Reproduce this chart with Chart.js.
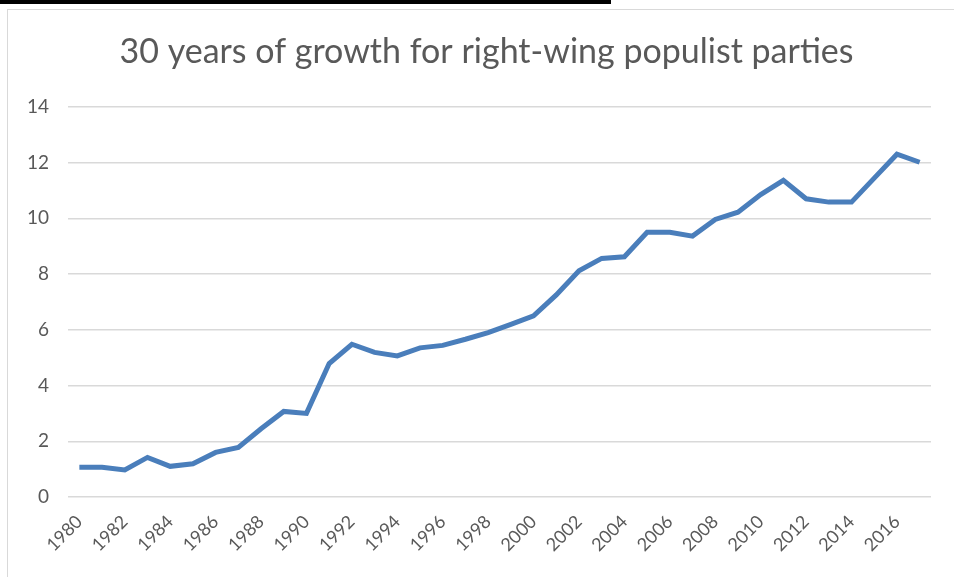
<!DOCTYPE html>
<html>
<head>
<meta charset="utf-8">
<script src="https://cdn.jsdelivr.net/npm/chart.js@4"></script>
<style>
  html, body { margin: 0; padding: 0; background: #fff; overflow: hidden; }
  #bar { position: absolute; left: 0; top: 0; width: 611px; height: 4px; background: #000; }
  #frame { position: absolute; left: 7px; top: 9px; width: 960px; height: 600px; border: 1px solid #d9d9d9; }
  #myChart { position: absolute; left: 0; top: 0; }
</style>
</head>
<body>
<div id="bar"></div>
<div id="frame">
  <canvas id="myChart" width="946" height="567"></canvas>
</div>
<script>
var titulo = '30 years of growth for right-wing populist parties';

var anios = [];
for (var a = 1980; a <= 2017; a++) anios.push(String(a));

var valores = [
  1.07, 1.07, 0.97, 1.42, 1.10, 1.19, 1.60, 1.78, 2.45, 3.07,
  3.00, 4.79, 5.48, 5.19, 5.06, 5.35, 5.44, 5.66, 5.90, 6.19,
  6.50, 7.25, 8.12, 8.56, 8.62, 9.50, 9.50, 9.36, 9.96, 10.22,
  10.85, 11.36, 10.70, 10.58, 10.58, 11.44, 12.30, 12.01
];

var ejeY = { min: 0, max: 14, paso: 2 };

var gris = '#595959';
var fuente = 'Lato, "Open Sans", sans-serif';

var ctx = document.getElementById('myChart').getContext('2d');

var config = {
  type: 'line',
  data: {
    labels: anios,
    datasets: [{
      data: valores,
      borderColor: '#4a7ebb',
      borderWidth: 5,
      pointRadius: 0,
      tension: 0,
      fill: false
    }]
  },
  options: {
    responsive: false,
    animation: false,
    layout: {
      padding: { left: 11, right: 0, top: 0, bottom: 10 }
    },
    plugins: {
      legend: { display: false },
      tooltip: { enabled: false },
      title: {
        display: true,
        text: titulo,
        color: gris,
        font: { family: fuente, size: 34, weight: 'normal' },
        padding: { top: 22, bottom: 34 }
      }
    },
    scales: {
      x: {
        offset: true,
        grid: { display: false },
        border: { display: false },
        afterFit: function (scale) {
          // margen derecho del área de dibujo
          scale.paddingLeft = 0;
          scale.paddingRight = 23;
          scale.height = 70;
        },
        ticks: {
          color: gris,
          font: { family: fuente, size: 18 },
          autoSkip: false,
          maxRotation: 45,
          minRotation: 45,
          padding: 6,
          callback: function (val, i) {
            return i % 2 === 0 ? this.getLabelForValue(val) : '';
          }
        }
      },
      y: {
        min: ejeY.min,
        max: ejeY.max,
        afterFit: function (scale) {
          scale.width = 49;
        },
        grid: { color: '#d9d9d9', lineWidth: 1.5, drawTicks: false },
        border: { display: false },
        ticks: {
          stepSize: ejeY.paso,
          color: gris,
          font: { family: fuente, size: 19 },
          padding: 19
        }
      }
    }
  }
};

var chart = new Chart(ctx, config);
</script>
</body>
</html>
